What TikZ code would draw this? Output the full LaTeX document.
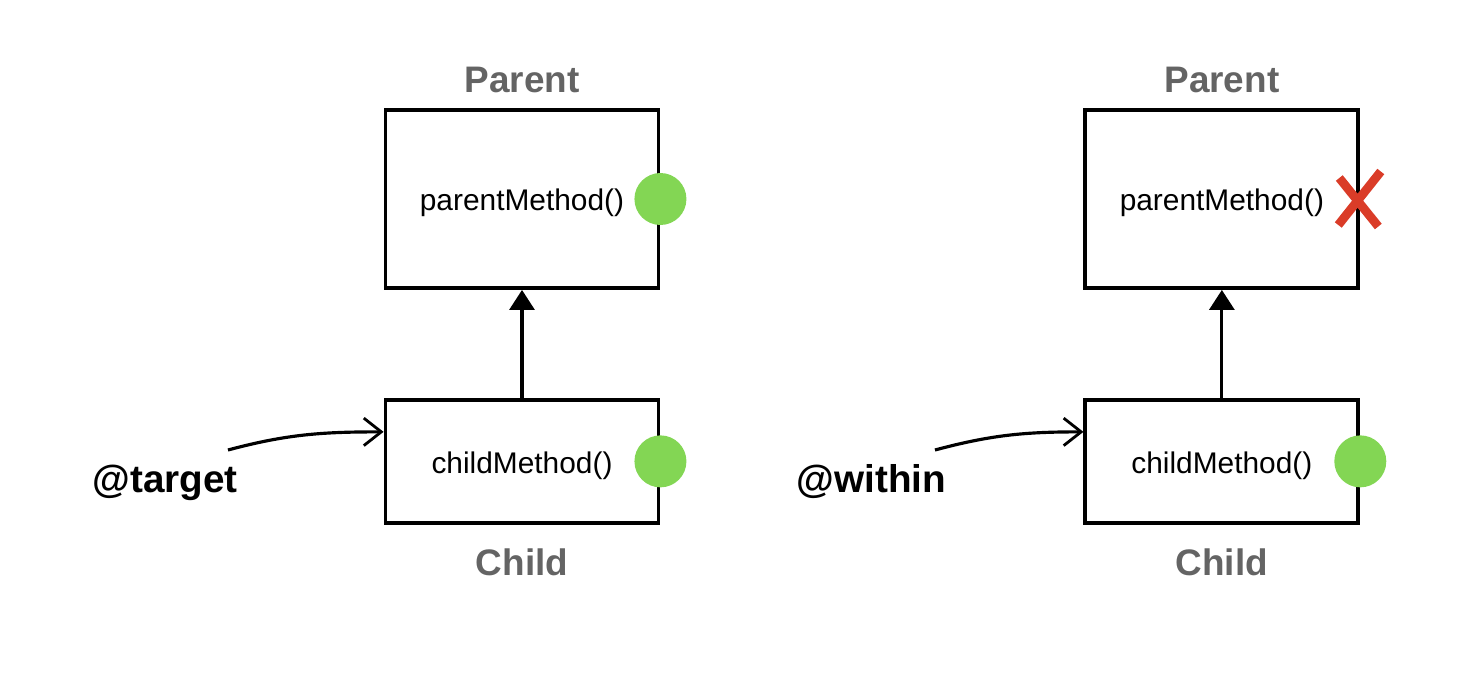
\documentclass[tikz,border=0pt]{standalone}
\usepackage{fontspec}
\setmainfont{Liberation Sans}
\usepackage{tikz}
\usetikzlibrary{arrows.meta, positioning, calc}
\definecolor{dotgreen}{RGB}{131,214,84}
\definecolor{crossred}{RGB}{218,60,40}
\definecolor{labelgray}{RGB}{100,100,100}

\begin{document}
\begin{tikzpicture}[
        node distance=1cm,
        % Define a uniform style for all class boxes
        classbox/.style={
            rectangle,
            draw=black,
            line width=2.2pt,
            minimum width=5.46cm,
            text height=0.6cm, % keeps the method name a bit lower
            align=center,
            font=\fontsize{17}{20}\selectfont
        },
        classname/.style={
            inner sep=0pt,
            text=labelgray,
            font=\fontsize{21}{24}\selectfont\bfseries
        },
        dot/.style={
            circle,
            fill=dotgreen,
            minimum size=1.04cm,
            inner sep=0pt
        },
        pointcut/.style={
            inner sep=0pt,
            anchor=base,
            font=\fontsize{22}{26}\selectfont\bfseries
        },
        inherit/.style={
            -{Triangle[length=0.4cm, width=0.5cm]},
            line width=1.8pt
        },
        pointer/.style={
            -{Straight Barb[length=0.35cm, width=0.55cm, line width=1.6pt]},
            line width=1.8pt
        }
    ]

    \useasboundingbox (0,0) rectangle (29.52,13.44);

    % Draw the Nodes
    \node (parentL) [classbox, minimum height=3.56cm] at (10.44,9.46) {parentMethod()};
    \node (childL) [classbox, minimum height=2.46cm, below=2.16cm of parentL] {childMethod()};
    \node (parentR) [classbox, minimum height=3.56cm, right=8.46cm of parentL] {parentMethod()};
    \node (childR) [classbox, minimum height=2.46cm, below=2.16cm of parentR] {childMethod()};

    \node (parentLabelL) [classname, above=0.3cm of parentL] {Parent};
    \node (childLabelL) [classname, below=0.48cm of childL] {Child};
    \node (parentLabelR) [classname, above=0.3cm of parentR] {Parent};
    \node (childLabelR) [classname, below=0.48cm of childR] {Child};

    % markers on the right edge
    \node (dotParentL) [dot] at (parentL.east) {};
    \node (dotChildL) [dot] at (childL.east) {};
    \node (dotChildR) [dot] at (childR.east) {};
    \coordinate (crossR) at ([xshift=-0.04cm]parentR.east);
    \draw [crossred, line width=5pt]
        ($(crossR)+(-0.38,0.42)$) -- ($(crossR)+(0.4,-0.55)$)
        ($(crossR)+(0.45,0.55)$) -- ($(crossR)+(-0.4,-0.52)$);

    % pointcut labels
    \node (targetLabel) [pointcut] at (3.3,3.6) {@target};
    \node (withinLabel) [pointcut] at (17.43,3.6) {@within};

    \coordinate (tailL) at (4.56,4.44);
    \coordinate (tailR) at (18.7,4.44);
    \coordinate (headL) at ([yshift=0.59cm]childL.west);
    \coordinate (headR) at ([yshift=0.59cm]childR.west);

    % Draw the connecting arrows
    \draw [inherit] (childL) -- (parentL);
    \draw [inherit] (childR) -- (parentR);
    \draw [pointer] (tailL) to[out=15, in=180] (headL);
    \draw [pointer] (tailR) to[out=15, in=180] (headR);

\end{tikzpicture}
\end{document}
